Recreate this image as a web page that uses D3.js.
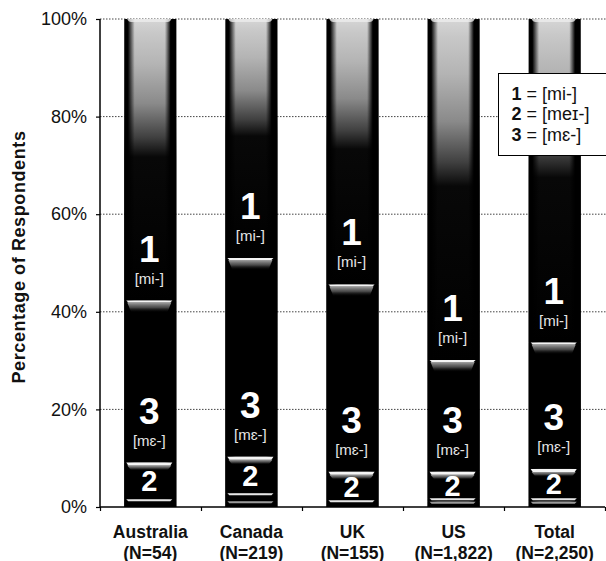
<!DOCTYPE html>
<html><head><meta charset="utf-8">
<script src="https://cdn.jsdelivr.net/npm/d3@7"></script>
<style>
html,body{margin:0;padding:0;background:#fff;}
svg{display:block;font-family:"Liberation Sans",Arial,Helvetica,sans-serif;}
</style></head>
<body><svg id="c" width="606" height="561"></svg>
<script>
const categories = ["Australia","Canada","UK","US","Total"];
const nLabels = ["(N=54)","(N=219)","(N=155)","(N=1,822)","(N=2,250)"];
// percentages per response, bottom to top
const otherB = [0, 1.2, 0, 1.1, 1.1];
const otherA = [1.6, 1.6, 1.4, 0.7, 0.7];
const resp2 = [7.5, 7.5, 5.8, 5.4, 6.0];
const resp3 = [33.2, 40.7, 38.4, 22.9, 25.9];
const resp1 = [57.7, 49.0, 54.4, 69.9, 66.3];
const yTicks = [0, 20, 40, 60, 80, 100];
const segLabels = {r1: ["1", "[mi-]"], r3: ["3", "[mɛ-]"], r2: ["2", ""]};
const legendItems = [["1", "[mi-]"], ["2", "[meɪ-]"], ["3", "[mɛ-]"]];

const svg = d3.select("#c");
const L = 100, R = 605, T = 19, B = 507;
const y = d3.scaleLinear().domain([0, 100]).range([B, T]);
const x = d3.scaleBand().domain(categories).range([L, R]).paddingInner(0.485).paddingOuter(0.24);
const bw = x.bandwidth();

const rows = categories.map((c, i) => ({cat: c, oB: otherB[i], oA: otherA[i], r2: resp2[i], r3: resp3[i], r1: resp1[i]}));
const keys = ["oB", "oA", "r2", "r3", "r1"];
const stacked = d3.stack().keys(keys)(rows);

const defs = svg.append("defs");
const g1 = defs.append("linearGradient").attr("id", "topFade").attr("x1", 0).attr("y1", 0).attr("x2", 0).attr("y2", 1);
[[0, "#d6d6d6"], [0.05, "#c8c8c8"], [0.16, "#b4b4b4"], [0.3, "#8a8a8a"], [0.42, "#404040"], [0.49, "#080808"], [1, "#000"]]
  .forEach(s => g1.append("stop").attr("offset", s[0]).attr("stop-color", s[1]));
const gs = defs.append("linearGradient").attr("id", "sides").attr("x1", 0).attr("y1", 0).attr("x2", 1).attr("y2", 0);
[[0, 1], [0.07, 1], [0.2, 0], [0.78, 0], [0.89, 1], [1, 1]]
  .forEach(s => gs.append("stop").attr("offset", s[0]).attr("stop-color", "#000").attr("stop-opacity", s[1]));
const gf = defs.append("linearGradient").attr("id", "lineFade").attr("x1", 0).attr("y1", 0).attr("x2", 0).attr("y2", 1);
[[0, "#a0a0a0", 1], [0.5, "#5a5a5a", 0.8], [1, "#000", 0]]
  .forEach(s => gf.append("stop").attr("offset", s[0]).attr("stop-color", s[1]).attr("stop-opacity", s[2]));

// gridlines
svg.append("g").selectAll("line").data(yTicks.filter(d => d > 0)).join("line")
  .attr("x1", L).attr("x2", 606).attr("y1", d => y(d)).attr("y2", d => y(d))
  .attr("stroke", "#444").attr("stroke-width", 1).attr("stroke-dasharray", "1.5,1.5");

// bars: segments
const barG = svg.append("g");
stacked.forEach(layer => {
  barG.append("g").selectAll("rect").data(layer).join("rect")
    .attr("x", d => x(d.data.cat)).attr("width", bw)
    .attr("y", d => y(d[1])).attr("height", d => y(d[0]) - y(d[1]))
    .attr("fill", layer.key === "r1" ? "url(#topFade)" : "#000");
});
// side shading
barG.append("g").selectAll("rect").data(categories).join("rect")
  .attr("x", d => x(d)).attr("width", bw).attr("y", y(100)).attr("height", y(0) - y(100))
  .attr("fill", "url(#sides)");
// top rim
barG.append("g").selectAll("path").data(categories).join("path")
  .attr("d", d => {
    const x0 = x(d) + 3, x1 = x(d) + bw - 5, yt = y(100);
    return `M${x0},${yt}L${x1},${yt}Q${x1 - 1},${yt + 3} ${x1 - 4},${yt + 3}L${x0 + 4},${yt + 3}Q${x0 + 1},${yt + 3} ${x0},${yt}Z`;
  })
  .attr("fill", "#ececec").attr("opacity", 0.8);

// boundary highlights
function boundary(layerKey, lineH, fadeH, color) {
  const layer = stacked.find(s => s.key === layerKey);
  const g = barG.append("g");
  layer.forEach(d => {
    if (d[1] - d[0] <= 0) return;
    const yy = y(d[1]);
    const x0 = x(d.data.cat) + 2, x1 = x(d.data.cat) + bw - 4;
    if (fadeH > 0) {
      g.append("path")
        .attr("d", `M${x0 + 1},${yy + lineH}L${x1 - 1},${yy + lineH}L${x1 - 5},${yy + lineH + fadeH}L${x0 + 5},${yy + lineH + fadeH}Z`)
        .attr("fill", "url(#lineFade)");
    }
    g.append("path")
      .attr("d", `M${x0},${yy}L${x1},${yy}L${x1 - 2},${yy + lineH}L${x0 + 2},${yy + lineH}Z`)
      .attr("fill", color);
  });
}
boundary("r3", 2, 10, "#f4f4f4");
boundary("r2", 3, 5, "#f4f4f4");
boundary("oA", 2, 0, "#e6e6e6");
boundary("oB", 2, 0, "#9a9a9a");

// segment labels
const lab = svg.append("g").attr("text-anchor", "middle").attr("fill", "#fff");
["r1", "r3"].forEach(k => {
  const layer = stacked.find(s => s.key === k);
  layer.forEach(d => {
    const cx = x(d.data.cat) + bw / 2 - 1;
    const yb = y(d[0]);
    lab.append("text").attr("x", cx).attr("y", yb - 39)
      .attr("font-size", 37).attr("font-weight", "bold").text(segLabels[k][0]);
    lab.append("text").attr("x", cx).attr("y", yb - 17)
      .attr("font-size", 15).attr("fill", "#e6e6e6").text(segLabels[k][1]);
  });
});
stacked.find(s => s.key === "r2").forEach(d => {
  const cx = x(d.data.cat) + bw / 2 - 1;
  const yc = (y(d[0]) + y(d[1])) / 2;
  lab.append("text").attr("x", cx).attr("y", yc + 10.5)
    .attr("font-size", 29).attr("font-weight", "bold").text(segLabels.r2[0]);
});

// y axis
const yAxis = svg.append("g").attr("transform", `translate(${L},0)`)
  .call(d3.axisLeft(y).tickValues(yTicks).tickSize(4).tickPadding(9).tickFormat(d => d + "%"));
yAxis.select(".domain").attr("stroke", "#000").attr("stroke-width", 1.5).attr("d", `M-0,${B}V${T}`);
yAxis.selectAll(".tick line").attr("stroke", "#000").attr("stroke-width", 1.2);
yAxis.selectAll(".tick text").attr("font-size", 18).attr("fill", "#111")
  .attr("font-family", "'Liberation Sans',Arial,sans-serif");

// x axis (ticks at band boundaries)
const xb = d3.scaleLinear().domain([0, categories.length]).range([L, R]);
const xAxis = svg.append("g").attr("transform", `translate(0,${B})`)
  .call(d3.axisBottom(xb).tickValues(d3.range(categories.length + 1)).tickSize(4).tickFormat(""));
xAxis.select(".domain").attr("stroke", "#000").attr("stroke-width", 1.5).attr("d", `M${L},0H${R}`);
xAxis.selectAll(".tick line").attr("stroke", "#000").attr("stroke-width", 1.2);

const xl = svg.append("g").attr("text-anchor", "middle").attr("font-weight", "bold").attr("font-size", 17.5).attr("fill", "#111");
categories.forEach((c, i) => {
  const cx = x(c) + bw / 2;
  xl.append("text").attr("x", cx).attr("y", 538).text(c);
  xl.append("text").attr("x", cx).attr("y", 558.5).text(nLabels[i]);
});

// y title
svg.append("text").attr("transform", "translate(25,257) rotate(-90)")
  .attr("text-anchor", "middle").attr("font-weight", "bold").attr("font-size", 18)
  .attr("letter-spacing", 0.6).attr("fill", "#111").text("Percentage of Respondents");

// legend
const lg = svg.append("g");
lg.append("rect").attr("x", 498.5).attr("y", 73.5).attr("width", 120).attr("height", 82)
  .attr("fill", "#fff").attr("stroke", "#000").attr("stroke-width", 1);
legendItems.forEach((it, i) => {
  const t = lg.append("text").attr("x", 511.5).attr("y", 99.5 + i * 20.5).attr("font-size", 18).attr("fill", "#111");
  t.append("tspan").attr("font-weight", "bold").text(it[0]);
  t.append("tspan").text(" = " + it[1]);
});
</script></body></html>
